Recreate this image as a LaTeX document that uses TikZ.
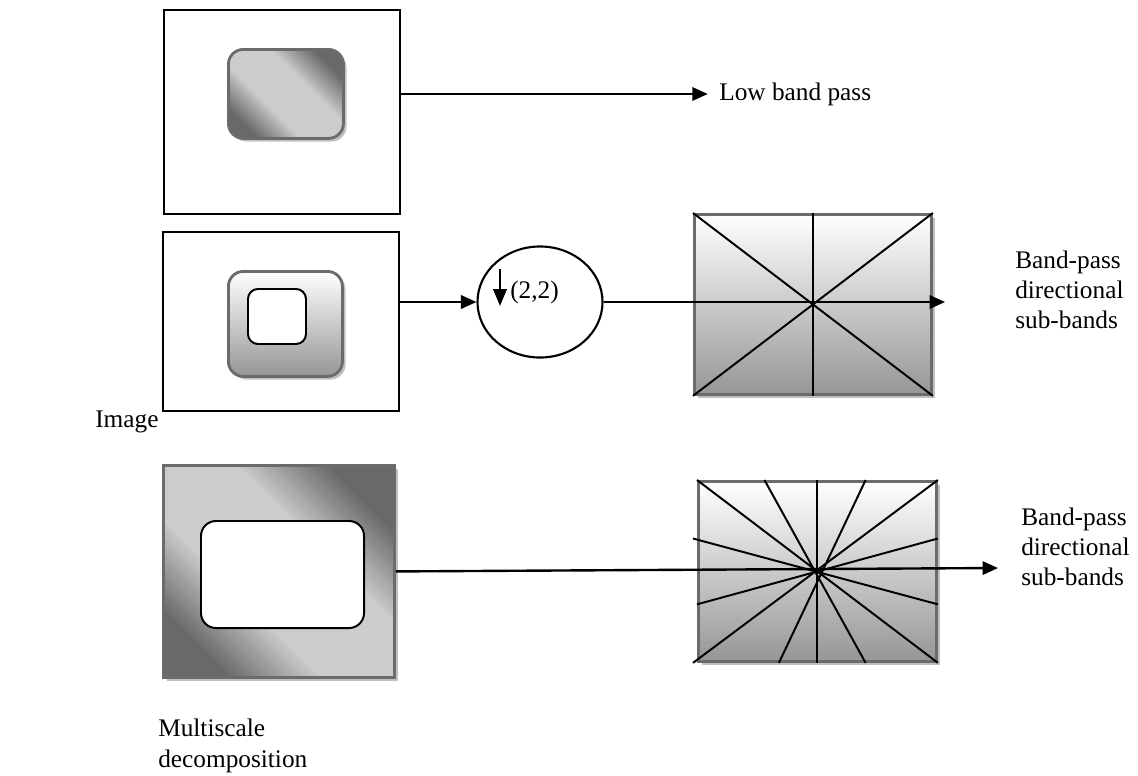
\documentclass[tikz,border=0pt]{standalone}
\usepackage{fontspec}
\setmainfont{Liberation Serif}
\usetikzlibrary{arrows.meta, shapes.geometric, shadows, calc}
\definecolor{edgeG}{RGB}{107,107,107}
\definecolor{darkG}{RGB}{105,105,105}
\definecolor{lightG}{RGB}{204,204,204}
\definecolor{baseG}{RGB}{150,150,150}
\definecolor{shadowG}{RGB}{192,192,192}
\pgfdeclareverticalshading{diagband}{100bp}{color(0bp)=(darkG); color(25bp)=(darkG);
  color(40bp)=(lightG); color(60bp)=(lightG); color(75bp)=(darkG); color(100bp)=(darkG)}
\tikzset{
  imgframe/.style={draw=black, line width=1.6pt, inner sep=0pt, anchor=north west},
  tile/.style={draw=edgeG, line width=2pt, inner sep=0pt,
    drop shadow={shadow xshift=2.2pt, shadow yshift=-2.2pt, fill=shadowG, opacity=1}},
  diagshade/.style={shading=diagband, shading angle=-45},
  vertshade/.style={top color=white, bottom color=baseG},
  hole/.style={draw=black, line width=1.4pt, fill=white, inner sep=0pt},
  flow/.style={-{Triangle[length=11pt,width=9.5pt]}, line width=1.7pt},
  ray/.style={line width=1.4pt},
  lbl/.style={font=\fontsize{18}{21.5}\selectfont, anchor=west, align=left, inner sep=0pt}
}
\begin{document}
\begin{tikzpicture}[x=0.025cm, y=-0.025cm]
\useasboundingbox (0,0) rectangle (1138,776);
% input image, first scale: low pass
\node[imgframe, minimum width=5.9cm, minimum height=5.1cm] (img1) at (163,9) {};
\node[tile, diagshade, rounded corners=0.375cm, minimum width=2.875cm, minimum height=2.225cm,
  anchor=north west] (low1) at (227,48) {};
\node[lbl] (lowlbl) at (719,94) {Low band pass};
\draw[flow, shorten >=8pt] (img1.east |- lowlbl.west) -- (lowlbl.west);
% second scale: band pass, then downsampling
\node[imgframe, minimum width=5.9cm, minimum height=4.475cm] (img2) at (162,231) {};
\node[tile, vertshade, rounded corners=0.375cm, minimum width=2.85cm, minimum height=2.625cm,
  anchor=north west] (band2) at (227,270) {};
\node[hole, rounded corners=0.25cm, minimum width=1.45cm, minimum height=1.375cm,
  anchor=north west] (hole2) at (247,288) {};
\node[ellipse, draw, line width=1.5pt, inner sep=0pt, minimum width=3.125cm,
  minimum height=2.775cm] (down2) at (540,302) {};
\draw[flow, -{Triangle[length=12pt,width=9.5pt]}] ($(down2.center)+(-40,-33)$) -- ++(0,37);
\node[lbl] (ratio) at (510,292) {(2,2)};
\draw[flow] (img2.east |- down2.west) -- (down2.west);
% directional filter bank, 4 directions
\node[tile, vertshade, minimum width=5.925cm, minimum height=4.5cm, anchor=north west] (dfb2) at (693,213) {};
\draw[ray] (dfb2.north west) -- (dfb2.south east);
\draw[ray] (dfb2.north east) -- (dfb2.south west);
\draw[ray] (dfb2.north) -- (dfb2.south);
\coordinate (out2) at (945,303);
\draw[flow] (down2.east) -- (down2.east -| out2);
\node[lbl] (sub2) at (1015,290) {Band-pass\\directional\\sub-bands};
\node[lbl] at (95,422) {Image};
% third scale
\node[tile, diagshade, minimum width=5.775cm, minimum height=5.3cm, anchor=north west] (img4) at (162,464) {};
\node[hole, rounded corners=0.375cm, minimum width=4.075cm, minimum height=2.675cm,
  anchor=north west] (hole4) at (200,520) {};
% directional filter bank, 8 directions
\node[tile, vertshade, minimum width=5.95cm, minimum height=4.5cm, anchor=north west] (dfb4) at (697,480) {};
\draw[ray] (dfb4.north west) -- (dfb4.south east);
\draw[ray] (dfb4.north east) -- ($(dfb4.south west)+(-4,0)$);
\draw[ray] (dfb4.north) -- (dfb4.south);
\draw[ray] ($(dfb4.north west)!0.28!(dfb4.north east)$) -- ($(dfb4.south west)!0.7!(dfb4.south east)$);
\draw[ray] ($(dfb4.north west)!0.7!(dfb4.north east)$) -- ($(dfb4.south west)!0.34!(dfb4.south east)$);
\draw[ray] ($(dfb4.north west)!0.32!(dfb4.south west)+(-4,0)$) -- ($(dfb4.north east)!0.68!(dfb4.south east)$);
\draw[ray] ($(dfb4.north west)!0.68!(dfb4.south west)$) -- ($(dfb4.north east)!0.32!(dfb4.south east)$);
\coordinate (out4) at (998,568);
\draw[flow] (img4.east) -- (out4);
\node[lbl] (sub4) at (1021,547) {Band-pass\\directional\\sub-bands};
\node[lbl] at (158,746) {Multiscale\\decomposition};
\end{tikzpicture}
\end{document}
